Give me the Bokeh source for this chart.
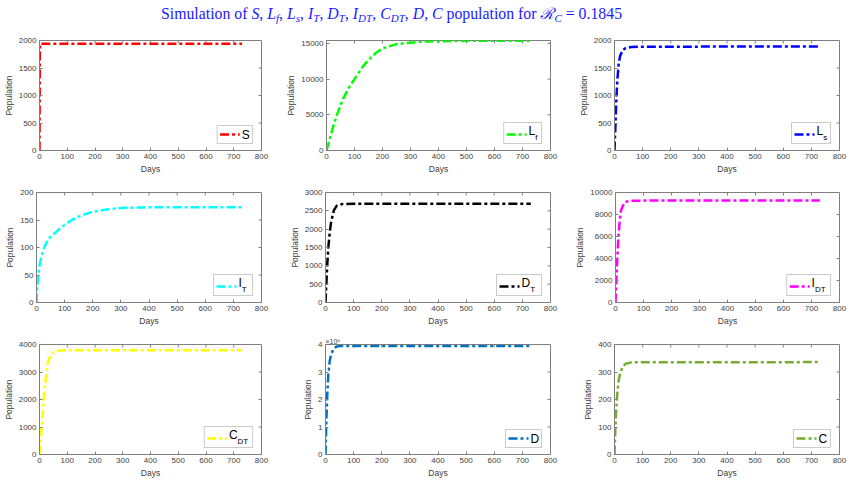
from bokeh.plotting import figure
from bokeh.models import (Range1d, SingleIntervalTicker, BoxAnnotation,
                          Label, Div, CustomJSTickFormatter)
from bokeh.layouts import column, row
from bokeh.embed import file_html
from bokeh.resources import INLINE

# ---------------- data ----------------
s_days = [0, 0.5, 1, 2, 730]
s_vals = [0, 900, 1700, 1940, 1940]

lf_days = [0, 10, 25, 40, 60, 80, 100, 125, 150, 175, 200, 250, 300, 350, 400, 500, 730]
lf_vals = [0, 1400, 3500, 5300, 7300, 8800, 10000, 11500, 12700, 13600, 14300, 14900,
           15100, 15250, 15300, 15350, 15350]

ls_days = [0, 3, 6, 10, 15, 20, 30, 40, 60, 100, 730]
ls_vals = [0, 400, 850, 1280, 1580, 1720, 1830, 1860, 1880, 1888, 1890]

it_days = [0, 3, 6, 10, 15, 20, 30, 40, 50, 65, 80, 100, 125, 150, 175, 200, 250, 300, 400, 500, 730]
it_vals = [0, 28, 47, 65, 78, 88, 103, 113, 120, 126, 133, 141, 150, 156, 161, 165, 169, 172, 173, 173, 173]

dt_days = [0, 3, 6, 10, 15, 20, 30, 40, 60, 100, 730]
dt_vals = [0, 500, 1000, 1500, 1900, 2200, 2520, 2640, 2685, 2690, 2690]

idt_days = [0, 3, 6, 10, 15, 20, 30, 40, 60, 100, 730]
idt_vals = [0, 2000, 3800, 5800, 7500, 8400, 9000, 9180, 9250, 9265, 9265]

cdt_days = [0, 3, 6, 10, 15, 20, 30, 40, 50, 70, 100, 730]
cdt_vals = [0, 350, 800, 1300, 2000, 2550, 3350, 3620, 3720, 3780, 3790, 3790]

d_days = [0, 3, 6, 10, 15, 20, 30, 40, 60, 730]
d_vals = [0, 1.2e6, 2.1e6, 2.9e6, 3.4e6, 3.65e6, 3.86e6, 3.93e6, 3.95e6, 3.95e6]

c_days = [0, 3, 6, 10, 15, 20, 30, 40, 60, 730]
c_vals = [0, 90, 160, 225, 270, 295, 320, 330, 335, 336]

legend_main = ["S", "L", "L", "I", "D", "I", "C", "D", "C"]
legend_sub = ["", "f", "s", "T", "T", "DT", "DT", "", ""]
colors = ["#FF0000", "#00FF00", "#0000FF", "#00FFFF", "#000000", "#FF00FF",
          "#FFFF00", "#0072BD", "#77AC30"]
y_max = [2000, 15400, 2000, 200, 3000, 10000, 4000, 4e6, 400]
y_step = [500, 5000, 500, 50, 500, 2000, 1000, 1e6, 100]
x_max = 800
x_step = 100
title_vars = [("S", ""), ("L", "f"), ("L", "s"), ("I", "T"), ("D", "T"),
              ("I", "DT"), ("C", "DT"), ("D", ""), ("C", "")]
rc_value = "0.1845"

series = [(s_days, s_vals), (lf_days, lf_vals), (ls_days, ls_vals),
          (it_days, it_vals), (dt_days, dt_vals), (idt_days, idt_vals),
          (cdt_days, cdt_vals), (d_days, d_vals), (c_days, c_vals)]

# ---------------- layout / style ----------------
FW, FH = 225, 110
BORDER_L = [36, 42, 42]
BORDER_R = [22, 22, 10]
B_TOP, B_BOT = 10, 32
AX = "#7f7f7f"
TXT = "#404040"
FONT = "Liberation Sans"
DASH = "9 3 3 3"
LW = 2.5
leg_w = [36, 38, 39, 39, 45, 44, 49, 36, 37]
main_w = {"S": 8.0, "L": 6.7, "I": 3.3, "D": 8.7, "C": 8.7}


def style_axis(ax):
    ax.major_tick_in = 3
    ax.major_tick_out = 0
    ax.minor_tick_line_color = None
    ax.axis_line_color = AX
    ax.major_tick_line_color = AX
    ax.major_label_text_font = FONT
    ax.major_label_text_color = TXT
    ax.major_label_text_font_size = "8px"
    ax.major_label_standoff = 3
    ax.axis_label_text_font = FONT
    ax.axis_label_text_font_style = "normal"
    ax.axis_label_text_font_size = "8.5px"
    ax.axis_label_text_color = TXT
    ax.axis_label_standoff = 2


def add_box_ticks(p, ymax, ystep):
    # inward tick marks on the top and right edges (MATLAB "box on")
    dx = x_max / FW
    dy = ymax / FH
    xt = [k * x_step for k in range(1, int(round(x_max / x_step)))]
    yt = [k * ystep for k in range(1, int(round(ymax / ystep)) + 1) if k * ystep < ymax]
    p.segment(x0=xt, x1=xt, y0=[ymax] * len(xt), y1=[ymax - 3 * dy] * len(xt),
              line_color=AX, line_width=1)
    p.segment(x0=[x_max] * len(yt), x1=[x_max - 3 * dx] * len(yt), y0=yt, y1=yt,
              line_color=AX, line_width=1)


def add_legend(p, ymax, color, main, sub, bw):
    dx = x_max / FW
    dy = ymax / FH
    right = x_max - 9 * dx
    left = right - bw * dx
    bh = 21 if sub else 18
    bottom = 7 * dy
    top = bottom + bh * dy
    ym = (bottom + top) / 2
    p.add_layout(BoxAnnotation(left=left, right=right, bottom=bottom, top=top,
                               fill_color="white", fill_alpha=1.0,
                               line_color="#262626", line_width=0.8, level="underlay"))
    ly = ym - (1.5 * dy if sub else 0)
    p.line([left + 3 * dx, left + 23 * dx], [ly, ly], line_color=color,
           line_width=LW, line_dash=DASH)
    my = ym + (2 * dy if sub else 0)
    p.add_layout(Label(x=left + 25 * dx, y=my, text=main, text_baseline="middle",
                       text_font=FONT, text_font_size="12px", text_color="black"))
    if sub:
        p.add_layout(Label(x=left + (25 + main_w[main]) * dx, y=ym - 4.5 * dy, text=sub,
                           text_baseline="middle", text_font=FONT,
                           text_font_size="8px", text_color="black"))


figs = []
for i in range(9):
    col = i % 3
    w = BORDER_L[col] + FW + BORDER_R[col]
    h = B_TOP + FH + B_BOT
    p = figure(width=w, height=h, x_range=Range1d(0, x_max), y_range=Range1d(0, y_max[i]),
               output_backend="svg", toolbar_location=None,
               min_border_left=BORDER_L[col], min_border_right=BORDER_R[col],
               min_border_top=B_TOP, min_border_bottom=B_BOT,
               x_axis_label="Days", y_axis_label="Population")
    p.grid.visible = False
    p.outline_line_color = AX
    p.background_fill_color = "white"
    p.border_fill_color = "white"
    p.xaxis.ticker = SingleIntervalTicker(interval=x_step, num_minor_ticks=0)
    p.yaxis.ticker = SingleIntervalTicker(interval=y_step[i], num_minor_ticks=0)
    style_axis(p.xaxis[0])
    style_axis(p.yaxis[0])
    add_box_ticks(p, y_max[i], y_step[i])

    days, vals = series[i]
    p.line(days, vals, line_color=colors[i], line_width=LW, line_dash=DASH)
    add_legend(p, y_max[i], colors[i], legend_main[i], legend_sub[i], leg_w[i])

    if i == 7:
        p.yaxis[0].formatter = CustomJSTickFormatter(code="return (tick/1000000).toFixed(0);")
        p.title.text = "\u00d710\u2076"
        p.title.align = "left"
        p.title.text_font = FONT
        p.title.text_font_size = "7px"
        p.title.text_font_style = "normal"
        p.title.text_color = TXT
        p.title.standoff = 0
    figs.append(p)


def msub(a, b):
    if b:
        return (f'<i>{a}<sub style="font-size:70%;line-height:0;vertical-align:-0.3em">'
                f'{b}</sub></i>')
    return f'<i>{a}</i>'


title_html = (
    '<div style="font-family:\'Liberation Serif\',serif;font-size:15.8px;color:#1a1aff;'
    'white-space:nowrap;padding-left:156px;line-height:18px;">'
    'Simulation of ' + ', '.join(msub(a, b) for a, b in title_vars) +
    ' population for ' + msub('\u211b', 'C') + ' = ' + rc_value + '</div>'
)
title = Div(text=title_html, width=849, height=20)

layout = column(title,
                row(*figs[0:3]),
                row(*figs[3:6]),
                row(*figs[6:9]))

open("out.html", "w").write(file_html(layout, INLINE))
